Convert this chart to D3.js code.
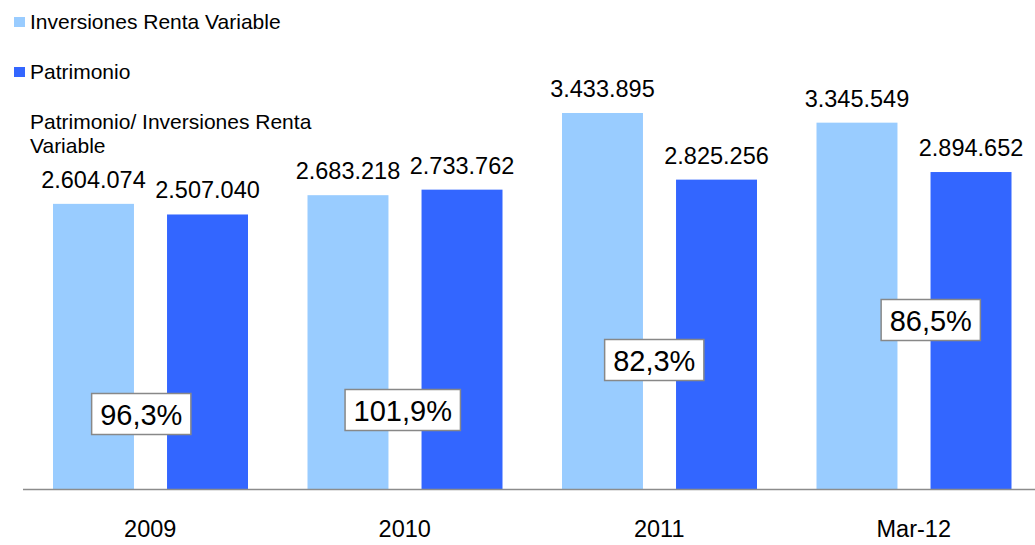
<!DOCTYPE html>
<html>
<head>
<meta charset="utf-8">
<script src="https://cdn.jsdelivr.net/npm/d3@7"></script>
<style>
  body { margin: 0; background: #fff; font-family: "Liberation Sans", Arial, sans-serif; }
</style>
</head>
<body>
<div id="chart-container"></div>
<script>
// data
const categories = ["2009", "2010", "2011", "Mar-12"];
const seriesNames = ["Inversiones Renta Variable", "Patrimonio"];
const inversiones = [2604074, 2683218, 3433895, 3345549];
const patrimonio = [2507040, 2733762, 2825256, 2894652];
const ratios = ["96,3%", "101,9%", "82,3%", "86,5%"];
const ratioTitle = ["Patrimonio/ Inversiones Renta", "Variable"];

const colors = { "Inversiones Renta Variable": "#99ccff", "Patrimonio": "#3366ff" };

const width = 1035, height = 545;
const baseY = 489;

const svg = d3.select("#chart-container")
  .append("svg")
  .attr("width", width)
  .attr("height", height);

const rows = categories.map((c, i) => ({
  cat: c,
  values: [
    { key: seriesNames[0], value: inversiones[i] },
    { key: seriesNames[1], value: patrimonio[i] }
  ],
  ratio: ratios[i]
}));

const x0 = d3.scaleBand().domain(categories).range([23, 1041]).padding(0);
const x1 = d3.scaleBand().domain(seriesNames).range([30, 225]).paddingInner(0.29).paddingOuter(0);
const y = d3.scaleLinear().domain([0, 4000000]).range([baseY, 51]);

const fmt = v => d3.format(",")(v).replace(/,/g, ".");

const groups = svg.selectAll("g.grp")
  .data(rows)
  .join("g")
  .attr("class", "grp")
  .attr("transform", d => `translate(${x0(d.cat)},0)`);

groups.selectAll("rect")
  .data(d => d.values)
  .join("rect")
  .attr("x", d => x1(d.key))
  .attr("y", d => y(d.value))
  .attr("width", x1.bandwidth())
  .attr("height", d => baseY - y(d.value))
  .attr("fill", d => colors[d.key]);

groups.selectAll("text.val")
  .data(d => d.values)
  .join("text")
  .attr("class", "val")
  .attr("x", d => x1(d.key) + x1.bandwidth() / 2)
  .attr("y", d => y(d.value) - 16)
  .attr("text-anchor", "middle")
  .style("font-size", "23.5px")
  .attr("fill", "#000")
  .text(d => fmt(d.value));

// axis line
svg.append("line")
  .attr("x1", 23).attr("x2", width)
  .attr("y1", baseY + 0.5).attr("y2", baseY + 0.5)
  .attr("stroke", "#8c8c8c")
  .attr("stroke-width", 1.5);

svg.selectAll("text.catlabel")
  .data(categories)
  .join("text")
  .attr("class", "catlabel")
  .attr("x", d => x0(d) + x0.bandwidth() / 2)
  .attr("y", 537)
  .attr("text-anchor", "middle")
  .style("font-size", "23.5px")
  .text(d => d);

// ratio boxes (placement as in the original)
const boxCenterY = [414, 410, 360, 320];
const boxCenterDx = [-9, -2, -5, 17];
rows.forEach((d, i) => {
  const cx = x0(d.cat) + x0.bandwidth() / 2 + boxCenterDx[i];
  const cy = boxCenterY[i];
  const t = svg.append("text")
    .attr("x", cx)
    .attr("y", cy + 10.5)
    .attr("text-anchor", "middle")
    .style("font-size", "29px")
    .text(d.ratio);
  const bb = t.node().getBBox();
  svg.insert("rect", () => t.node())
    .attr("x", bb.x - 8.5)
    .attr("y", cy - 20.5)
    .attr("width", bb.width + 17)
    .attr("height", 41)
    .attr("fill", "#fff")
    .attr("stroke", "#888")
    .attr("stroke-width", 1.5);
});

// legend
const legend = svg.append("g");
seriesNames.forEach((k, i) => {
  const g = legend.append("g").attr("transform", `translate(14,${17 + i * 50})`);
  g.append("rect").attr("width", 11).attr("height", 10).attr("fill", colors[k]);
  g.append("text").attr("x", 16).attr("y", 11.5).style("font-size", "21px").text(k);
});

svg.append("text")
  .attr("x", 30).attr("y", 129)
  .style("font-size", "21px")
  .selectAll("tspan")
  .data(ratioTitle)
  .join("tspan")
  .attr("x", 30)
  .attr("dy", (d, i) => i === 0 ? 0 : 24)
  .text(d => d);
</script>
</body>
</html>
